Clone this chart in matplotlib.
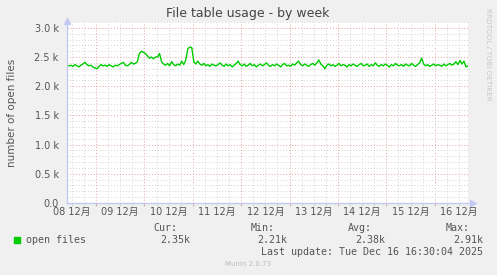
import numpy as np
import matplotlib.pyplot as plt
from matplotlib.ticker import MultipleLocator, FuncFormatter

# open files, hourly samples (k), ending Tue Dec 16 16:30
end_day = 8.6875          # days since 08 Dec 00:00
step_day = 1 / 24
open_files = [
    2.35, 2.36, 2.34, 2.37, 2.35, 2.33, 2.36, 2.38, 2.41, 2.37,
    2.35, 2.36, 2.33, 2.31, 2.30, 2.34, 2.37, 2.35, 2.36, 2.34,
    2.37, 2.35, 2.33, 2.36, 2.35, 2.37, 2.39, 2.41, 2.36, 2.35,
    2.37, 2.41, 2.38, 2.39,
    2.42, 2.56, 2.60, 2.58, 2.56, 2.52, 2.48, 2.50, 2.47, 2.50,
    2.50, 2.56, 2.42, 2.38,
    2.36, 2.39, 2.35, 2.42, 2.37, 2.35, 2.38, 2.36, 2.43, 2.37,
    2.45, 2.64, 2.67, 2.66, 2.42, 2.38,
    2.43, 2.38, 2.36, 2.39, 2.35, 2.37, 2.34, 2.38, 2.36, 2.35,
    2.37, 2.40, 2.36, 2.34, 2.38, 2.35, 2.37, 2.33, 2.36, 2.39,
    2.43, 2.37, 2.35, 2.38, 2.34, 2.36, 2.39, 2.35, 2.37, 2.33,
    2.36, 2.38, 2.35, 2.37, 2.40, 2.36, 2.34, 2.37, 2.35, 2.38,
    2.36, 2.33, 2.37, 2.39, 2.35, 2.36, 2.34, 2.38, 2.36, 2.40,
    2.43, 2.37, 2.35, 2.38, 2.36, 2.34, 2.37, 2.39, 2.36, 2.40,
    2.45, 2.38, 2.35, 2.30, 2.36, 2.38, 2.35, 2.37, 2.34, 2.36,
    2.39, 2.35, 2.37, 2.36, 2.33, 2.37, 2.35, 2.38, 2.36, 2.34,
    2.37, 2.39, 2.35, 2.36, 2.38, 2.34, 2.37, 2.35, 2.40, 2.36,
    2.34, 2.37, 2.35, 2.38, 2.36, 2.33, 2.37, 2.35, 2.39, 2.36,
    2.35, 2.37, 2.34, 2.38, 2.36, 2.35, 2.39, 2.36, 2.34, 2.37,
    2.40, 2.48, 2.38, 2.35, 2.37, 2.34, 2.36, 2.38, 2.35, 2.37,
    2.36, 2.34, 2.38, 2.35, 2.37, 2.39, 2.36, 2.38, 2.42, 2.37,
    2.44, 2.38, 2.43, 2.33, 2.35,
]
day_labels = ['08 12月', '09 12月', '10 12月', '11 12月', '12 12月',
              '13 12月', '14 12月', '15 12月', '16 12月']
stat_names = ['Cur:', 'Min:', 'Avg:', 'Max:']
stat_values = ['2.35k', '2.21k', '2.38k', '2.91k']

n = len(open_files)
t = end_day - step_day * np.arange(n - 1, -1, -1)

W, H = 497, 275
def px(x, y):
    return x / W, 1 - y / H

txt = '#555555'
axc = '#c4c8f4'
fig = plt.figure(figsize=(W / 100, H / 100), dpi=100, facecolor='#f0f0f0')
ax = fig.add_axes([67 / W, (H - 203) / H, (468 - 67) / W, (203 - 22) / H])
ax.set_facecolor('white')

ax.plot(t, open_files, color='#00cc00', lw=1.0, zorder=3)

ax.set_xlim(0.40, end_day)
ax.set_ylim(0, 3.1)

# grid
ax.yaxis.set_major_locator(MultipleLocator(0.5))
ax.yaxis.set_minor_locator(MultipleLocator(0.1))
ax.xaxis.set_major_locator(MultipleLocator(1))
ax.xaxis.set_minor_locator(MultipleLocator(0.25))
ax.grid(which='minor', color='#d4d4d4', lw=0.7, ls=(0, (1, 2)))
ax.grid(which='major', color='#e2a4a4', lw=0.7, ls=(0, (1, 2)))
ax.set_axisbelow(True)

ax.yaxis.set_major_formatter(FuncFormatter(lambda v, p: '0.0' if v == 0 else f'{v:.1f} k'))
ax.tick_params(axis='y', which='both', length=0, pad=6, labelsize=7, labelcolor=txt)
ax.tick_params(axis='x', which='major', length=2, color='#e2a4a4', labelbottom=False)
ax.tick_params(axis='x', which='minor', length=2, color='#d4d4d4')

for i, lab in enumerate(day_labels):
    ax.text(i + 0.5, -0.052, lab, transform=ax.get_xaxis_transform(),
            ha='center', va='center', fontsize=7, color=txt,
            family=['DejaVu Sans', 'Noto Sans CJK SC'])

for s in ['top', 'right']:
    ax.spines[s].set_visible(False)
for s in ['left', 'bottom']:
    ax.spines[s].set_color(axc)
    ax.spines[s].set_linewidth(1.0)
ax.plot(1.012, 0, '>', color=axc, ms=4, transform=ax.transAxes, clip_on=False)
ax.plot(0, 1.005, '^', color=axc, ms=4, transform=ax.transAxes, clip_on=False)

fig.text(*px(248, 14), 'File table usage - by week', ha='center', va='center',
         fontsize=9, color='#444444')
fig.text(*px(12, 113), 'number of open files', rotation=90, ha='center',
         va='center', fontsize=7.5, color=txt)
fig.text(*px(488, 54), 'RRDTOOL / TOBI OETIKER', rotation=270, ha='center',
         va='center', fontsize=5.2, color='#c8c8c8')

mono = dict(family='DejaVu Sans Mono', fontsize=7.2, color=txt, va='center')
fig.patches.append(plt.Rectangle(px(14, 243), 6 / W, 6 / H, color='#00cc00',
                                 transform=fig.transFigure))
fig.text(*px(26.5, 240), 'open files', ha='left', **mono)
for k, (name, val) in enumerate(zip(stat_names, stat_values)):
    fig.text(*px(177 + 97.6 * k, 228), name, ha='right', **mono)
    fig.text(*px(190 + 97.6 * k, 240), val, ha='right', **mono)
fig.text(*px(483, 252), 'Last update: Tue Dec 16 16:30:04 2025', ha='right', **mono)
fig.text(*px(248, 264), 'Munin 2.0.73', ha='center', va='center',
         fontsize=5, color='#bbbbbb')

fig.savefig('out.png', dpi=100, facecolor=fig.get_facecolor())
